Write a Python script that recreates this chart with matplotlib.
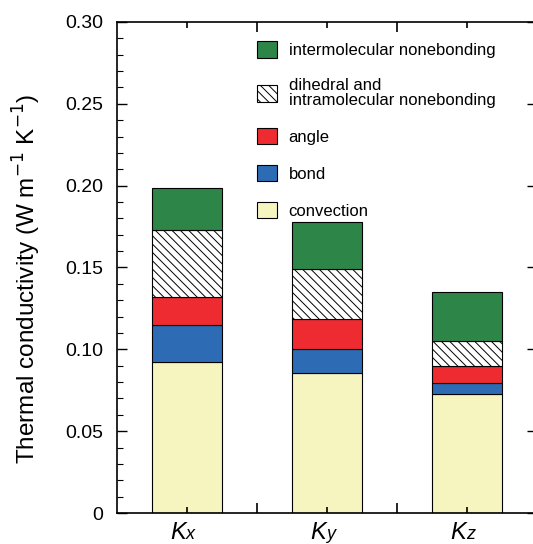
import matplotlib
matplotlib.use("Agg")
import matplotlib.pyplot as plt
from matplotlib.patches import Patch
from matplotlib.ticker import MultipleLocator, FuncFormatter

plt.rcParams['font.family'] = ['Liberation Sans', 'DejaVu Sans']
plt.rcParams['hatch.linewidth'] = 0.7

categories = ["K", "K", "K"]
subscripts = ["x", "y", "z"]
convection = [0.0923, 0.0853, 0.0725]
bond = [0.0226, 0.0149, 0.0067]
angle = [0.0173, 0.0181, 0.0108]
dihedral = [0.0407, 0.0306, 0.0153]
intermolecular = [0.0255, 0.0291, 0.0299]

series = [
    ("convection", convection, "#f6f5c0", None),
    ("bond", bond, "#2d6cb4", None),
    ("angle", angle, "#ee2b30", None),
    ("dihedral and\nintramolecular nonebonding", dihedral, "white", "\\\\\\\\"),
    ("intermolecular nonebonding", intermolecular, "#2e8548", None),
]

fig = plt.figure(figsize=(5.33, 5.44), dpi=100)
ax = fig.add_axes([117/533, 31/544, 420/533, 491/544])

x = [1, 2, 3]
bottom = [0.0, 0.0, 0.0]
handles = []
for label, vals, color, hatch in series:
    ax.bar(x, vals, width=0.5, bottom=bottom, color=color, edgecolor="black",
           linewidth=0.8, hatch=hatch)
    bottom = [b + v for b, v in zip(bottom, vals)]
    handles.append(Patch(facecolor=color, edgecolor="black", linewidth=0.8,
                         hatch=hatch, label=label))

ax.set_xlim(0.5, 3.5)
ax.set_ylim(0, 0.30)
ax.set_xticks(x)
ax.set_xticklabels([])
ax.set_xticks([1.5, 2.5], minor=True)
ax.yaxis.set_major_locator(MultipleLocator(0.05))
ax.yaxis.set_minor_locator(MultipleLocator(0.01))
ax.yaxis.set_major_formatter(FuncFormatter(lambda v, p: "0" if abs(v) < 1e-9 else f"{v:.2f}"))
ax.tick_params(axis="both", which="both", direction="in", top=True, right=True)
ax.tick_params(axis="y", which="major", length=7, width=1, labelsize=14, pad=10)
ax.tick_params(axis="y", which="minor", length=4, width=0.8, right=False)
ax.tick_params(axis="x", which="major", length=4, width=1.2)
ax.tick_params(axis="x", which="minor", length=7, width=1.2)
for s in ax.spines.values():
    s.set_linewidth(1.2)

for xi, k, sub in zip(x, categories, subscripts):
    ax.annotate(k, xy=(xi, 0), xycoords=("data", "axes fraction"),
                xytext=(-1, -18.5), textcoords="offset points",
                ha="right", va="baseline", fontsize=17, style="italic")
    ax.annotate(sub, xy=(xi, 0), xycoords=("data", "axes fraction"),
                xytext=(-1, -18.5), textcoords="offset points",
                ha="left", va="baseline", fontsize=13, style="italic")

ax.set_ylabel("Thermal conductivity (W m$^{-1}$ K$^{-1}$)", fontsize=17.5, labelpad=16)
ax.yaxis.label.set_y(0.477)

leg = ax.legend(handles=handles[::-1], loc="upper left",
                bbox_to_anchor=((257 - 117) / 420, 1 - (41 - 22) / 491),
                frameon=False, fontsize=12, handlelength=1.2, handleheight=1.15,
                labelspacing=1.2, handletextpad=0.7, borderaxespad=0,
                borderpad=0)
for t in leg.get_texts():
    t.set_linespacing(1.0)

fig.savefig("out.png", dpi=100)
